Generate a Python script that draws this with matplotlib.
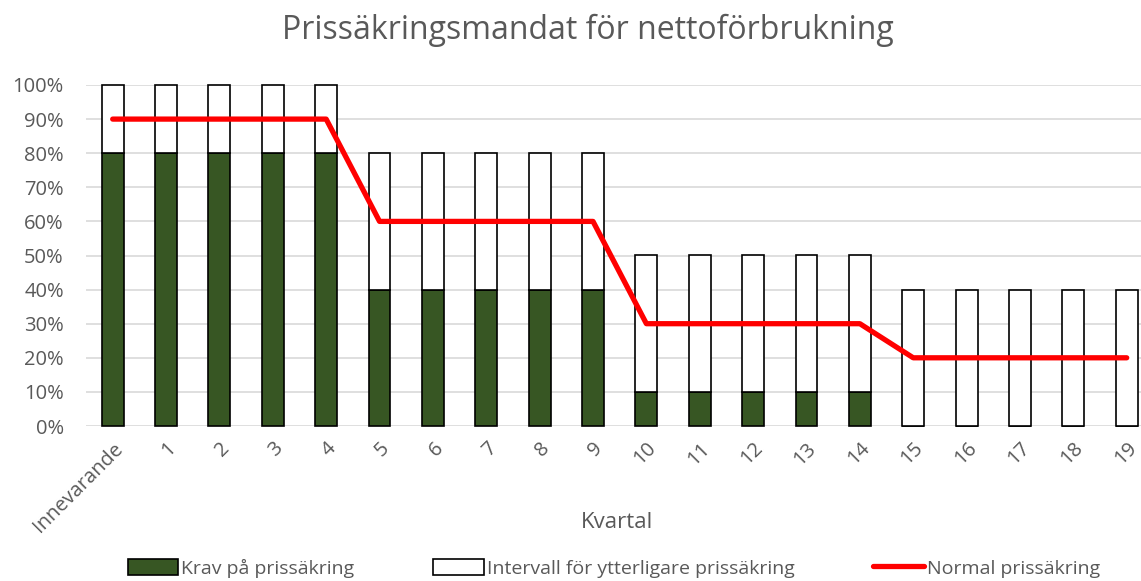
import matplotlib
matplotlib.use("Agg")
import matplotlib.pyplot as plt
from matplotlib.ticker import PercentFormatter
from matplotlib.patches import Patch
from matplotlib.lines import Line2D

categories = ["Innevarande"] + [str(i) for i in range(1, 20)]
krav = [80]*5 + [40]*5 + [10]*5 + [0]*5
intervall_top = [100]*5 + [80]*5 + [50]*5 + [40]*5
normal = [90]*5 + [60]*5 + [30]*5 + [20]*5
intervall = [t - k for t, k in zip(intervall_top, krav)]

plt.rcParams['font.family'] = ['Open Sans', 'DejaVu Sans']
GREEN = '#375623'
TXT = '#595959'

fig = plt.figure(figsize=(11.41, 5.81), dpi=100)
ax = fig.add_axes([86/1141, 1-426/581, (1141-86)/1141, (426-85)/581])
x = list(range(len(categories)))
w = 0.41
ax.bar(x, [k/100 for k in krav], width=w, color=GREEN, edgecolor='black', linewidth=1.2, zorder=3, clip_on=False)
ax.bar(x, [v/100 for v in intervall], bottom=[k/100 for k in krav], width=w, color='white',
       edgecolor='black', linewidth=1.2, zorder=3, clip_on=False)
ax.plot(x, [n/100 for n in normal], color='#ff0000', linewidth=3.8, zorder=4, solid_capstyle='round')

ax.set_xlim(-0.5, -0.5 + (1141-86)/53.37)
ax.set_ylim(0, 1.0)
ax.set_yticks([i/10 for i in range(11)])
ax.yaxis.set_major_formatter(PercentFormatter(1.0, decimals=0))
ax.grid(axis='y', color='#d9d9d9', linewidth=1.2, zorder=0)
ax.set_axisbelow(True)
for s in ax.spines.values():
    s.set_visible(False)
ax.tick_params(axis='both', length=0, colors=TXT, labelsize=14.5)
ax.tick_params(axis='y', pad=16)
ax.set_xticks(x)
ax.set_xticklabels(categories, rotation=45, ha='right', rotation_mode='anchor')
ax.tick_params(axis='x', pad=9)

fig.text(0.541, 1-523/581, 'Kvartal', ha='center', va='center', fontsize=16, color=TXT)
fig.text(0.515, 1-30/581, 'Prissäkringsmandat för nettoförbrukning', ha='center', va='center',
         fontsize=23, color=TXT)

handles = [Patch(facecolor=GREEN, edgecolor='black', linewidth=1.2),
           Patch(facecolor='white', edgecolor='black', linewidth=1.2),
           Line2D([0], [0], color='#ff0000', linewidth=3.8, solid_capstyle='round')]
labels = ['Krav på prissäkring', 'Intervall för ytterligare prissäkring', 'Normal prissäkring']
leg = fig.legend(handles, labels, loc='center', bbox_to_anchor=(0.538, 1-568/581), ncol=3,
                 frameon=False, fontsize=14, handlelength=2.6, handleheight=0.9,
                 handletextpad=0.15, columnspacing=4.05, labelcolor=TXT)

fig.savefig('out.png', dpi=100)
